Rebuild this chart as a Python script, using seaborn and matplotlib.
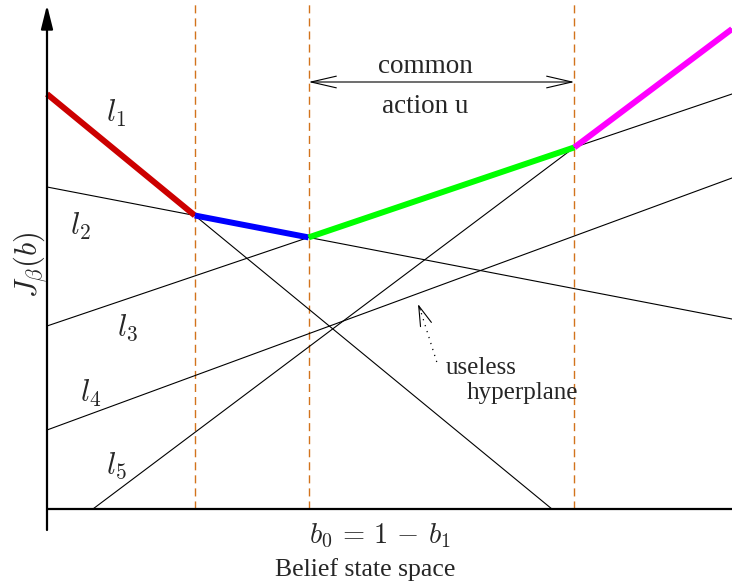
import numpy as np
import pandas as pd
import matplotlib
matplotlib.use("Agg")
import matplotlib.pyplot as plt
import seaborn as sns

# Hyperplanes (alpha vectors): value at the two corners of the belief simplex
line_names = ["l1", "l2", "l3", "l4", "l5"]
value_at_b0 = [4.15, 3.22, 1.83, 0.79, -0.345]
value_at_b1 = [-1.48, 1.90, 4.15, 3.31, 4.80]

# Hyperplanes that make up the upper envelope, left to right, and their colours
envelope_lines = ["l1", "l2", "l3", "l5"]
envelope_colors = ["#cc0000", "#0000ff", "#00ff00", "#ff00ff"]

# Line labels and where they sit (belief, value)
label_texts = [r"$l_1$", r"$l_2$", r"$l_3$", r"$l_4$", r"$l_5$"]
label_b = [0.101, 0.049, 0.117, 0.064, 0.101]
label_J = [3.96, 2.83, 1.81, 1.16, 0.43]

sns.set_style("white")
plt.rcParams["font.family"] = ["Liberation Serif", "DejaVu Serif"]
plt.rcParams["mathtext.fontset"] = "cm"

coef = pd.DataFrame({"name": line_names, "a0": value_at_b0, "a1": value_at_b1}).set_index("name")
coef["slope"] = coef["a1"] - coef["a0"]


def value(name, b):
    return coef.loc[name, "a0"] + coef.loc[name, "slope"] * np.asarray(b)


# Each hyperplane drawn over the part of [0, 1] where its value is non-negative
rows = []
for name in line_names:
    a0, s = coef.loc[name, "a0"], coef.loc[name, "slope"]
    lo, hi = 0.0, 1.0
    root = -a0 / s
    if s < 0 and root < 1:
        hi = root
    if s > 0 and root > 0:
        lo = root
    for b in (lo, hi):
        rows.append({"line": name, "b": b, "J": value(name, b)})
thin = pd.DataFrame(rows)

# Breakpoints of the upper envelope = intersections of consecutive pieces
breaks = []
for left, right in zip(envelope_lines[:-1], envelope_lines[1:]):
    b = (coef.loc[right, "a0"] - coef.loc[left, "a0"]) / (coef.loc[left, "slope"] - coef.loc[right, "slope"])
    breaks.append(b)
edges = [0.0] + breaks + [1.0]
env_rows = []
for name, lo, hi in zip(envelope_lines, edges[:-1], edges[1:]):
    for b in (lo, hi):
        env_rows.append({"piece": name, "b": b, "J": value(name, b)})
env = pd.DataFrame(env_rows)

fig = plt.figure(figsize=(7.32, 5.85), dpi=100)
ax = fig.add_axes([0, 0, 1, 1])
ax.set_xlim(-47 / 685, 1.0)
ax.set_ylim(-0.76, 5.09)
ax.axis("off")

# Region boundaries
for b in breaks:
    ax.plot([b, b], [0, 5.09], color="#d2731c", lw=1.0, dashes=(5.8, 3.6), zorder=1)

# All hyperplanes
sns.lineplot(data=thin, x="b", y="J", units="line", estimator=None, color="black",
             lw=0.8, ax=ax, zorder=2, legend=False)

# Upper envelope
sns.lineplot(data=env, x="b", y="J", hue="piece", palette=dict(zip(envelope_lines, envelope_colors)),
             estimator=None, lw=4.3, ax=ax, zorder=3, legend=False, solid_capstyle="butt")

# Axes of the diagram
ax.plot([0, 1], [0, 0], color="black", lw=1.6, zorder=4, solid_capstyle="butt")
ax.annotate("", xy=(0, 5.04), xytext=(0, -0.21),
            arrowprops=dict(arrowstyle="-|>,head_length=1.0,head_width=0.25", mutation_scale=14.4,
                            lw=1.6, color="black", shrinkA=0, shrinkB=0), zorder=4)

for txt, bx, jy in zip(label_texts, label_b, label_J):
    ax.text(bx, jy, txt, fontsize=22, ha="center", va="center")

# Common action region
ax.annotate("", xy=(breaks[1], 4.27), xytext=(breaks[2], 4.27),
            arrowprops=dict(arrowstyle="<->,head_length=1.3,head_width=0.3", mutation_scale=14,
                            lw=0.8, color="black", shrinkA=0, shrinkB=0))
ax.text(0.552, 4.36, "common", fontsize=19.5, ha="center", va="baseline")
ax.text(0.552, 3.96, "action u", fontsize=19.5, ha="center", va="baseline")

# Useless hyperplane pointer
ax.plot([0.569, 0.545], [1.47, 1.99], color="black", lw=0.9, ls=(0, (1, 4)))
ax.annotate("", xy=(0.5416, 2.05), xytext=(0.545, 1.99),
            arrowprops=dict(arrowstyle="->,head_length=1.2,head_width=0.35", mutation_scale=12,
                            lw=0.8, color="black", shrinkA=0, shrinkB=0))
ax.text(0.5825, 1.35, "useless", fontsize=18, ha="left", va="baseline")
ax.text(0.613, 1.10, "hyperplane", fontsize=18, ha="left", va="baseline")

ax.text(0.486, -0.34, r"$b_0\,=\,1\,-\,b_1$", fontsize=20.5, ha="center", va="baseline")
ax.text(0.464, -0.67, "Belief state space", fontsize=18.5, ha="center", va="baseline")
ax.text(-0.0248, 2.44, r"$J_\beta(b)$", fontsize=22, ha="center", va="center", rotation=90)

fig.savefig("out.png", dpi=100)
